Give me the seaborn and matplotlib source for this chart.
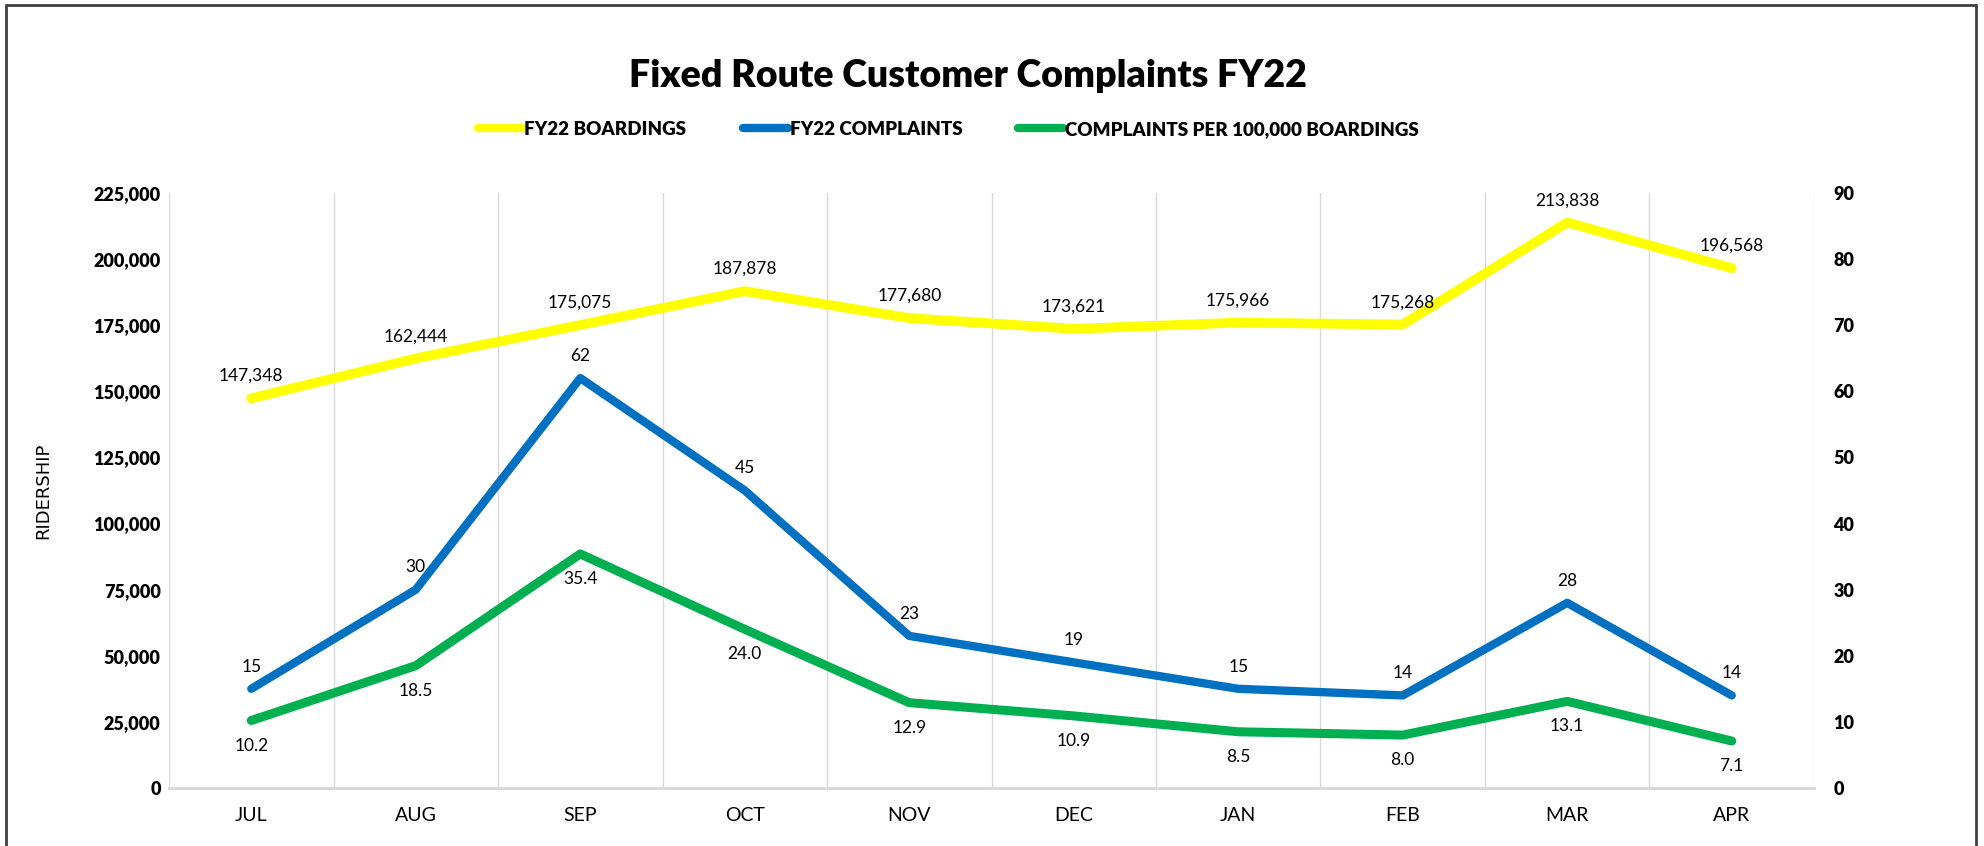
import pandas as pd
import matplotlib.pyplot as plt
import seaborn as sns
from matplotlib.lines import Line2D
from matplotlib.ticker import FixedLocator

months = ["JUL", "AUG", "SEP", "OCT", "NOV", "DEC", "JAN", "FEB", "MAR", "APR"]
boardings = [147348, 162444, 175075, 187878, 177680, 173621, 175966, 175268, 213838, 196568]
complaints = [15, 30, 62, 45, 23, 19, 15, 14, 28, 14]
per_100k = [10.2, 18.5, 35.4, 24.0, 12.9, 10.9, 8.5, 8.0, 13.1, 7.1]

left_ticks = list(range(0, 225001, 25000))
right_ticks = list(range(0, 91, 10))

df = pd.DataFrame({"month": months, "boardings": boardings,
                   "complaints": complaints, "rate": per_100k})

sns.set_theme(style="white")
plt.rcParams['font.family'] = ['Lato', 'DejaVu Sans']
plt.rcParams['text.color'] = 'black'
plt.rcParams['axes.labelcolor'] = 'black'
plt.rcParams['xtick.labelcolor'] = 'black'
plt.rcParams['ytick.labelcolor'] = 'black'

yellow = "#FFFF00"
blue = "#0070C0"
green = "#00B050"
grid_c = "#D9D9D9"
BOLD = 800  # lato "bold" (700) renders rather light here

fig = plt.figure(figsize=(19.84, 8.46), dpi=100)
ax = fig.add_axes([0.0852, 0.0686, 0.8291, 0.7033])
ax2 = ax.twinx()

sns.lineplot(data=df, x="month", y="boardings", ax=ax, color=yellow, lw=7,
             sort=False, legend=False)
sns.lineplot(data=df, x="month", y="complaints", ax=ax2, color=blue, lw=6,
             sort=False, legend=False)
sns.lineplot(data=df, x="month", y="rate", ax=ax2, color=green, lw=6.5,
             sort=False, legend=False)

for i, v in enumerate(boardings):
    ax.annotate(f"{v:,}", (i, v), xytext=(0, 16), textcoords="offset points",
                ha="center", va="center", fontsize=12.5)
for i, v in enumerate(complaints):
    ax2.annotate(f"{v}", (i, v), xytext=(0, 16), textcoords="offset points",
                 ha="center", va="center", fontsize=12.5)
for i, v in enumerate(per_100k):
    ax2.annotate(f"{v:.1f}", (i, v), xytext=(0, -18), textcoords="offset points",
                 ha="center", va="center", fontsize=12.5)

ax.set_xlim(-0.5, len(months) - 0.5)
ax.set_ylim(0, 225000)
ax2.set_ylim(0, 90)
ax.set_yticks(left_ticks, [f"{t:,}" for t in left_ticks], fontweight=BOLD, fontsize=13)
ax2.set_yticks(right_ticks, [str(t) for t in right_ticks], fontweight=BOLD, fontsize=13)

ax.xaxis.set_minor_locator(FixedLocator([i - 0.5 for i in range(len(months) + 1)]))
ax.grid(False)
ax2.grid(False)
ax.grid(True, which="minor", axis="x", color=grid_c, lw=1)
ax.tick_params(axis="x", which="major", length=0, pad=14, labelsize=14)
ax.tick_params(axis="x", which="minor", length=8, color=grid_c, width=1.2)
ax.tick_params(axis="y", length=0, pad=6)
ax2.tick_params(axis="y", length=0, pad=14)

for a in (ax, ax2):
    for s in ("top", "left", "right"):
        a.spines[s].set_visible(False)
    a.spines["bottom"].set_color(grid_c)
    a.spines["bottom"].set_linewidth(2)

ax.set_xlabel("")
ax2.set_ylabel("")
ax.set_ylabel("RIDERSHIP", fontsize=13, family="DejaVu Sans")
ax.yaxis.set_label_coords(-0.071, 0.5)

fig.text(0.488, 0.91, "Fixed Route Customer Complaints FY22", ha="center", va="center",
         fontsize=27, fontweight=BOLD)

handles = [Line2D([0], [0], color=yellow, lw=6),
           Line2D([0], [0], color=blue, lw=6),
           Line2D([0], [0], color=green, lw=6)]
fig.legend(handles, ["FY22 BOARDINGS", "FY22 COMPLAINTS", "COMPLAINTS PER 100,000 BOARDINGS"],
           loc="center", bbox_to_anchor=(0.478, 0.847), ncol=3, frameon=False,
           handlelength=2.4, handletextpad=0.1, columnspacing=3.0,
           prop={"weight": BOLD, "size": 13.5})

# outer chart border
bc = "#404040"
fig.add_artist(Line2D([0.003, 0.996], [0.994, 0.994], color=bc, lw=2, transform=fig.transFigure))
fig.add_artist(Line2D([0.003, 0.003], [0.0, 0.994], color=bc, lw=2, transform=fig.transFigure))
fig.add_artist(Line2D([0.996, 0.996], [0.0, 0.994], color=bc, lw=2, transform=fig.transFigure))

fig.savefig("out.png", dpi=100)
